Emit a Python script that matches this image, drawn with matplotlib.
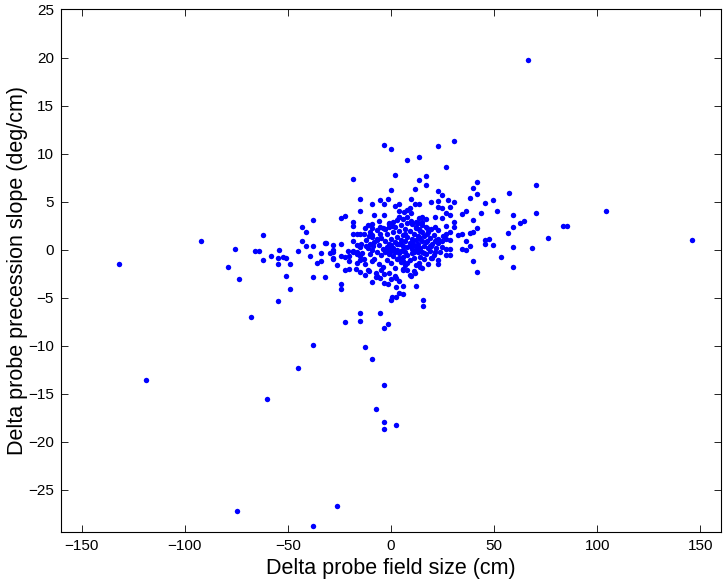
import matplotlib
matplotlib.use("Agg")
import matplotlib.pyplot as plt

# Delta probe field size (cm) vs delta precession slope (deg/cm)

# far points and right wing
right_pts = [
    (66.6, 19.7), (30.7, 11.3), (41.9, 7.0), (39.9, 6.4), (41.9, 5.8), (38.3, 5.4),
    (30.7, 5.0), (28.6, 4.4), (28.6, 3.6), (34.5, 3.75), (36.2, 4.0), (45.6, 4.9),
    (49.3, 5.2), (57.0, 5.9), (70.4, 6.7), (43.8, 3.8), (51.4, 4.0), (59.0, 3.6),
    (70.4, 3.8), (104.2, 4.0), (39.9, 3.1), (30.7, 2.9), (30.6, 2.4), (28.6, 1.85),
    (41.7, 2.3), (59.0, 2.4), (62.7, 2.75), (64.6, 3.0), (83.6, 2.5), (85.4, 2.45),
    (32.5, 1.5), (34.5, 1.6), (38.3, 1.7), (39.9, 1.8), (56.9, 1.7), (28.6, 1.0),
    (36.2, 0.9), (45.6, 1.0), (47.5, 1.1), (45.6, 0.6), (49.3, 0.5), (75.9, 1.2),
    (146.1, 1.0), (28.6, 0.1), (34.5, 0.1), (36.2, 0.0), (38.3, 0.4), (59.0, 0.25),
    (68.3, 0.2), (28.6, -0.6), (53.2, -0.8), (39.9, -1.2), (59.0, -1.8), (41.9, -2.3),
]

# upper part of the cloud
upper_pts = [
    (-3.5, 10.9), (0.2, 10.5), (23.0, 10.75), (7.8, 9.3), (13.5, 9.6), (26.7, 8.6),
    (-18.6, 7.4), (2.0, 7.8), (17.2, 7.7), (13.5, 7.2), (17.2, 6.7), (0.2, 6.2),
    (11.7, 6.3), (23.0, 6.1), (24.9, 5.7), (-14.9, 5.3), (-5.2, 5.2), (-1.5, 5.3),
    (9.6, 5.3), (27.5, 5.2), (19.3, 5.0), (23.0, 5.1), (-14.9, 4.0), (-9.0, 4.7),
    (-3.5, 4.7), (2.0, 4.5), (4.1, 4.75), (11.7, 4.8), (13.5, 4.8), (23.0, 4.4),
    (24.9, 4.3), (4.1, 4.0), (6.1, 3.9), (7.8, 4.1), (9.6, 3.85), (9.4, 4.3),
    (-3.5, 3.6), (-8.0, 3.65), (21.1, 3.35), (17.1, 3.15), (4.1, 3.35), (5.7, 3.15),
    (8.0, 3.35), (9.6, 2.95), (11.9, 2.9), (13.5, 3.3), (15.2, 3.35), (15.2, 2.9),
    (11.9, 2.35), (13.5, 2.1), (17.3, 2.3), (19.3, 2.1), (21.1, 2.35), (23.0, 2.0),
    (26.9, 2.5), (26.9, 1.65), (24.9, 3.3), (26.9, 3.85), (23.0, 1.15), (24.9, 0.9),
    (26.9, 1.1), (21.1, 0.9), (19.3, 0.4), (17.3, 0.9), (17.3, 1.65), (15.2, 1.8),
    (13.5, 1.35), (19.3, -0.9), (23.0, -1.1), (23.0, -1.55), (26.9, 0.1), (26.9, -0.6),
    (24.9, 0.3), (21.1, -0.25),
]

# left wing
left_pts = [
    (-131.9, -1.45), (-91.9, 0.85), (-79.1, -1.76), (-73.7, -3.1), (-75.4, 0.04),
    (-66.1, -0.1), (-64.0, -0.1), (-62.2, -1.1), (-62.3, 1.5), (-58.3, -0.65),
    (-54.5, 0.0), (-54.6, -0.9), (-52.5, -0.8), (-50.7, -0.9), (-54.6, -1.5),
    (-48.8, -1.55), (-50.7, -2.7), (-48.8, -4.05), (-54.6, -5.3), (-67.7, -7.0),
    (-44.9, -0.1), (-39.4, -0.7), (-37.7, -2.9), (-31.8, -2.9), (-35.7, -1.35),
    (-34.0, -1.2), (-33.8, -0.4), (-29.8, -0.4), (-28.2, -0.2), (-26.2, -1.6),
    (-28.2, -1.0), (-24.3, -3.6), (-24.3, -4.05), (-24.3, -0.65), (-22.5, -0.8),
    (-20.4, -0.65), (-20.4, -1.2), (-20.4, -2.0), (-22.5, -2.1), (-18.5, -0.3),
    (-16.6, -0.5), (-16.6, -1.35), (-16.8, -2.0), (-14.9, -2.3), (-12.8, -1.55),
    (-12.8, -2.6), (-11.0, -2.1), (-9.1, -1.2), (-9.1, -3.4), (-7.4, -2.4),
    (-7.4, -2.9), (-24.1, 3.3), (-22.4, 3.5), (-37.7, 3.1), (-43.2, 2.35),
    (-41.0, 1.8), (-43.2, 0.9), (-41.0, 0.35), (-37.7, 0.35), (-32.0, 0.7),
    (-28.2, 0.45), (-28.2, -0.85), (-24.3, 0.6), (-20.7, -0.1), (-18.6, 2.9),
    (-18.6, 2.45), (-18.6, 1.65), (-16.7, 1.65), (-14.8, 1.65), (-18.6, 0.9),
    (-16.7, 0.45), (-14.8, 0.4), (-18.6, -0.1), (-16.7, -0.3), (-14.8, -1.1),
    (-12.8, 2.25), (-9.0, 2.7), (-9.0, 2.2), (-10.9, 1.4), (-9.0, 1.3),
    (-7.0, 1.1), (-5.1, 1.6), (-5.1, 2.4), (-3.1, 2.1), (-1.2, 2.7),
    (-1.2, 2.4), (0.6, 2.5), (-28.2, 0.0), (-31.7, 0.7), (-14.4, 0.55),
    (-12.0, 0.4), (-10.1, 0.55), (-8.5, 0.4),
]

# lower tail
lower_pts = [
    (-118.8, -13.55), (-74.5, -27.2), (-37.7, -28.8), (-26.4, -26.7), (-60.1, -15.6),
    (-44.9, -12.3), (-37.7, -9.9), (-12.8, -10.15), (-9.1, -11.4), (-7.4, -16.6),
    (-3.5, -14.1), (-3.5, -17.9), (-3.5, -18.7), (2.2, -18.3), (-15.1, -6.65),
    (-15.1, -7.4), (-22.5, -7.5), (-5.5, -6.6), (-1.4, -7.7), (-3.5, -8.2),
    (15.6, -5.2), (15.6, -5.9), (0.2, -5.2), (2.2, -4.9), (5.9, -4.6),
    (5.9, -3.8), (11.9, -3.8), (4.1, -3.3), (0.2, -3.1), (-3.5, -3.5),
    (-1.4, -3.6), (15.2, -1.95), (13.5, -1.35), (11.7, -2.4), (9.6, -2.75),
    (8.0, -2.15), (5.9, -1.2), (5.9, -2.05), (2.2, -3.0), (2.2, -3.85),
    (4.1, -4.55), (0.6, -4.9), (-5.1, -2.95), (-3.5, -2.5), (-7.0, -2.75),
    (-10.9, -2.2), (-14.8, -0.7),
]

# dense core near the origin (estimated)
core_pts = [
    (-12, 1.0), (-11, 0.2), (-10, -0.5), (-9, 1.5), (-9, 0.0), (-8, -1.0), (-8, 0.8),
    (-7, 2.0), (-7, -0.3), (-6, 0.5), (-6, -1.5), (-5, 1.2), (-5, -0.6), (-4, 0.1),
    (-4, 2.3), (-4, -1.8), (-3, 0.9), (-3, -0.2), (-2, 1.6), (-2, -1.1), (-2, 0.3),
    (-1, 0.6), (-1, -0.5), (-1, 2.8), (0, 1.1), (0, -0.1), (0, -1.4), (0, 0.5),
    (1, 1.8), (1, -0.7), (1, 0.2), (2, 0.8), (2, -0.3), (2, 2.4), (2, -1.9),
    (3, 1.3), (3, 0.0), (3, -1.0), (3, 3.1), (4, 0.6), (4, -0.4), (4, 1.9),
    (5, 1.0), (5, -0.1), (5, -1.3), (5, 2.6), (6, 0.4), (6, 1.5), (6, -0.8),
    (7, 0.9), (7, -0.2), (7, 2.1), (7, -1.6), (8, 0.3), (8, 1.3), (8, -0.6),
    (9, 0.7), (9, 1.9), (9, -1.1), (10, 0.1), (10, 1.1), (10, -0.4), (10, 2.7),
    (11, 0.5), (11, 1.6), (11, -0.9), (12, 0.0), (12, 1.0), (12, 2.2), (12, -1.6),
    (13, 0.6), (13, -0.3), (13, 1.4), (14, 1.9), (14, 0.2), (14, -0.8), (15, 0.9),
    (15, 2.6), (15, -0.2), (16, 0.4), (16, 1.4), (17, -0.5), (17, 0.8), (18, 0.2),
    (18, 1.8), (19, -0.1), (19, 1.2), (20, 0.6), (21, -0.6), (21, 1.5), (22, 0.2),
    (23, 0.7), (24, -0.3), (25, 1.4), (-15, 0.3), (-14, -0.4), (-13, 1.6), (-13, -1.0),
    (-11, 2.6), (-10, 1.8), (-6, 3.0), (-3, 2.1), (1, 2.9), (4, 3.4), (8, 2.8),
    (6, -2.1), (9, -2.6), (2, -2.8), (-1, -2.4), (-5, -2.1), (11, -2.2), (14, -1.8),
    (16, -1.0), (18, -1.5), (20, -0.9), (13, 2.8), (17, 2.4), (3, 0.6), (6, 0.0),
    (9, 0.4), (11, -0.2), (-7, 1.0), (-2, 0.0), (0, 0.3), (4, -0.9), (7, 1.6),
    (10, 0.8), (12, 0.4), (14, 1.1), (16, -0.4), (19, 0.4), (22, 1.0), (8, -1.4),
    (5, 0.6),
]

x_ticks = [-150, -100, -50, 0, 50, 100, 150]
y_ticks = [-25, -20, -15, -10, -5, 0, 5, 10, 15, 20, 25]

all_pts = right_pts + upper_pts + left_pts + lower_pts + core_pts
xs = [p[0] for p in all_pts]
ys = [p[1] for p in all_pts]

plt.rcParams["font.family"] = ["Liberation Sans", "DejaVu Sans"]

fig = plt.figure(figsize=(7.23, 5.86), dpi=100)
ax = fig.add_axes([0.0844, 0.0922, 0.9128, 0.8916])

ax.plot(xs, ys, "o", color=(0, 0, 1), markersize=3.9, markeredgewidth=0)

ax.set_xlim(-160, 160)
ax.set_ylim(-29.4, 25)
ax.set_xticks(x_ticks)
ax.set_yticks(y_ticks)
ax.tick_params(direction="in", top=True, right=True, length=5, width=0.6,
               labelsize=11, pad=5)
for s in ax.spines.values():
    s.set_linewidth(0.8)

ax.set_xlabel("Delta probe field size (cm)", fontsize=15.5, labelpad=3.5)
ax.set_ylabel("Delta probe precession slope (deg/cm)", fontsize=15.5, labelpad=0.5)

fig.savefig("out.png", dpi=100)
